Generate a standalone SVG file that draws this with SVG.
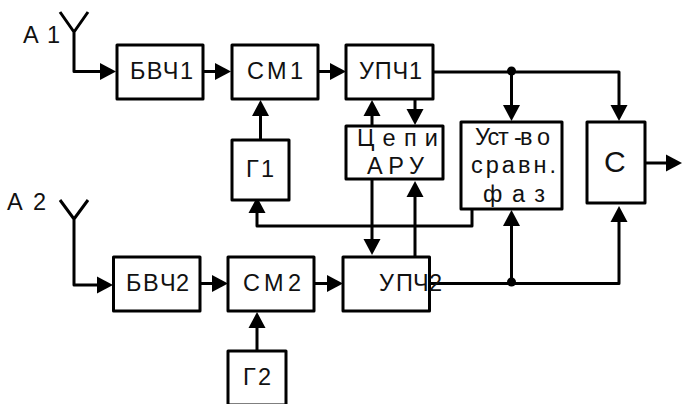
<svg xmlns="http://www.w3.org/2000/svg" width="682" height="404" viewBox="0 0 682 404">
<style>
.b{fill:#fff;stroke:#000;stroke-width:3;stroke-linejoin:round}
.l{fill:none;stroke:#000;stroke-width:3;stroke-linejoin:round}
.a{fill:#000;stroke:none}
text{font-family:"Liberation Sans",Arial,sans-serif;font-size:23.500px;fill:#111}
</style>
<defs>
<path id="ar" class="a" d="M0 0L-16 -8.500L-16 8.500Z"/>
</defs>
<g id="connectors">
<path class="l" d="M60 12L74 32L88 12M74 32V71.500H105"/>
<path class="l" d="M203 71.500H220M318 71.500H335M260.500 139V110"/>
<path class="l" d="M433 72H619V110M511.500 72V110"/>
<path class="l" d="M372 126V110M415 99V115M372 179V245M415 257V190"/>
<path class="l" d="M472 209V226H257V208"/>
<path class="l" d="M429 283.500H619V215M511.500 283.500V220"/>
<path class="l" d="M645 163H670"/>
<path class="l" d="M60 200L74 219L88 200M74 219V285H102"/>
<path class="l" d="M200 283.500H217M314 283.500H331M257 351V322"/>
<circle class="a" cx="511.500" cy="71" r="4.500"/>
<circle class="a" cx="511.500" cy="282" r="4.500"/>
<use href="#ar" transform="translate(116,71.500)"/>
<use href="#ar" transform="translate(231,71.500)"/>
<use href="#ar" transform="translate(346,71.500)"/>
<use href="#ar" transform="translate(260.500,100) rotate(-90)"/>
<use href="#ar" transform="translate(372,100) rotate(-90)"/>
<use href="#ar" transform="translate(415,125) rotate(90)"/>
<use href="#ar" transform="translate(511.500,121) rotate(90)"/>
<use href="#ar" transform="translate(619,121) rotate(90)"/>
<use href="#ar" transform="translate(682,163)"/>
<use href="#ar" transform="translate(372,255) rotate(90)"/>
<use href="#ar" transform="translate(415,181) rotate(-90)"/>
<use href="#ar" transform="translate(257,197) rotate(-90)"/>
<use href="#ar" transform="translate(511.500,210) rotate(-90)"/>
<use href="#ar" transform="translate(619,206) rotate(-90)"/>
<use href="#ar" transform="translate(113,285)"/>
<use href="#ar" transform="translate(228,283.500)"/>
<use href="#ar" transform="translate(343,283.500)"/>
<use href="#ar" transform="translate(257,312) rotate(-90)"/>
</g>
<g id="a1"><text x="23" y="43" textLength="37" lengthAdjust="spacing">А 1</text></g>
<g id="a2"><text x="7" y="210" textLength="39" lengthAdjust="spacing">А 2</text></g>
<g id="bvch1"><rect class="b" x="117" y="45" width="86" height="54"/><text x="130" y="79" textLength="63" lengthAdjust="spacing">БВЧ1</text></g>
<g id="sm1"><rect class="b" x="232" y="45" width="86" height="54"/><text x="247" y="79" textLength="56" lengthAdjust="spacing">СМ1</text></g>
<g id="upch1"><rect class="b" x="346" y="45" width="87" height="54"/><text x="359" y="79" textLength="63" lengthAdjust="spacing">УПЧ1</text></g>
<g id="g1"><rect class="b" x="232" y="140" width="57" height="60"/><text x="246" y="177" textLength="28" lengthAdjust="spacing">Г1</text></g>
<g id="aru"><rect class="b" x="346" y="126" width="97" height="53"/><text x="357" y="146" textLength="81" lengthAdjust="spacing">Цепи</text><text x="367" y="174" textLength="57" lengthAdjust="spacing">АРУ</text></g>
<g id="phase"><rect class="b" x="461" y="122" width="101" height="87"/><text y="145" x="475 487.500 498 514 520 537">Уст-во</text><text x="471" y="173" textLength="85" lengthAdjust="spacing">сравн.</text><text x="483" y="202" textLength="62" lengthAdjust="spacing">фаз</text></g>
<g id="c"><rect class="b" x="587" y="122" width="58" height="81"/><text x="604" y="172" style="font-size:30px">С</text></g>
<g id="bvch2"><rect class="b" x="113.500" y="257" width="86.500" height="54"/><text y="291" x="126 143 160 176">БВЧ2</text></g>
<g id="sm2"><rect class="b" x="228" y="257" width="86" height="54"/><text x="243" y="291" textLength="58" lengthAdjust="spacing">СМ2</text></g>
<g id="upch2"><rect class="b" x="343" y="257" width="86.500" height="54"/><text y="291" x="379 396 413 429">УПЧ2</text></g>
<g id="g2"><rect class="b" x="228" y="351" width="58" height="54"/><text x="243" y="385" textLength="28" lengthAdjust="spacing">Г2</text></g>
</svg>
